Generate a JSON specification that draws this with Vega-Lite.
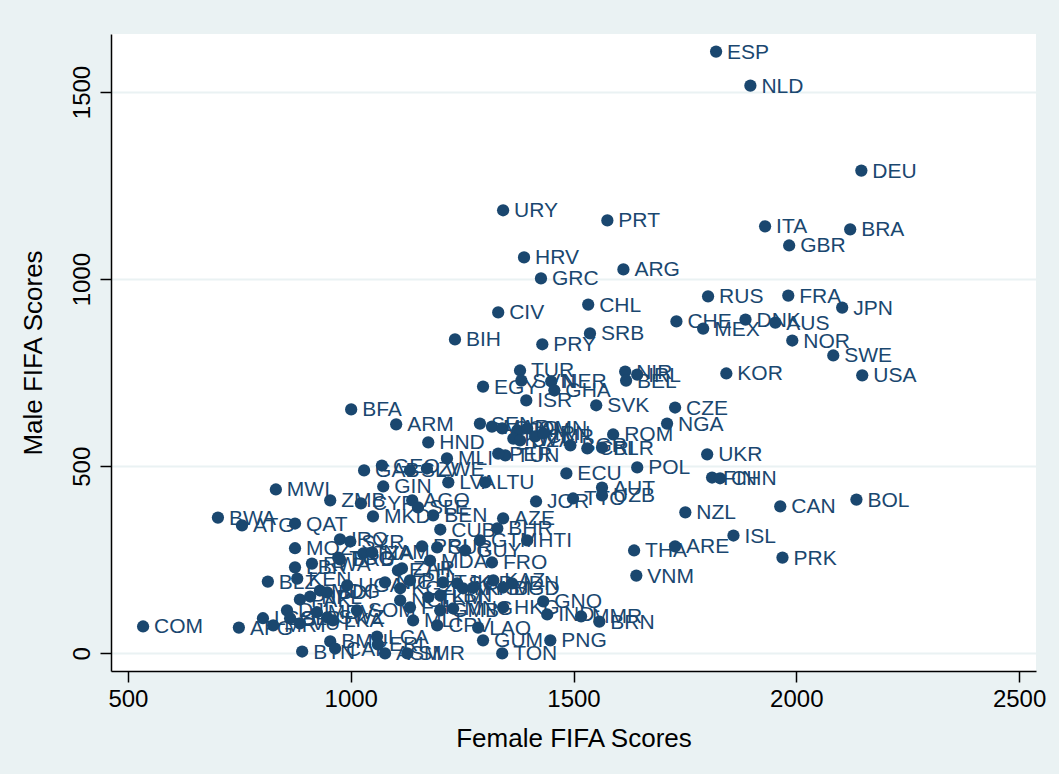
{
  "$schema": "https://vega.github.io/schema/vega-lite/v6.json",
  "width": 925,
  "height": 637,
  "autosize": {"type": "none"},
  "padding": {"left": 111, "top": 34, "right": 23, "bottom": 103},
  "background": "#EAF2F3",
  "config": {
    "view": {"stroke": null, "fill": "white"},
    "font": "Liberation Sans",
    "axis": {
      "domainColor": "black", "domainWidth": 1.5, "tickColor": "black", "tickWidth": 1.5, "tickSize": 11,
      "labelFont": "Liberation Sans", "labelColor": "black", "labelFontSize": 24,
      "titleFont": "Liberation Sans", "titleColor": "black", "titleFontSize": 26, "titleFontWeight": "normal"
    }
  },
  "data": {"values": [
    {"c":"ESP","f":1820,"m":1608},{"c":"NLD","f":1897,"m":1517},{"c":"DEU","f":2146,"m":1290},
    {"c":"URY","f":1342,"m":1184},{"c":"PRT","f":1576,"m":1157},{"c":"ITA","f":1930,"m":1141},
    {"c":"BRA","f":2121,"m":1133},{"c":"GBR","f":1984,"m":1090},{"c":"HRV","f":1389,"m":1058},
    {"c":"ARG","f":1612,"m":1026},{"c":"GRC","f":1427,"m":1002},{"c":"RUS","f":1802,"m":954},
    {"c":"FRA","f":1982,"m":956},{"c":"JPN","f":2103,"m":924},{"c":"CHL","f":1533,"m":932},
    {"c":"CIV","f":1331,"m":911},{"c":"CHE","f":1731,"m":887},{"c":"DNK","f":1886,"m":892},
    {"c":"AUS","f":1953,"m":884},{"c":"MEX","f":1791,"m":868},{"c":"NOR","f":1991,"m":836},
    {"c":"SRB","f":1537,"m":855},{"c":"BIH","f":1234,"m":839},{"c":"PRY","f":1430,"m":826},
    {"c":"SWE","f":2083,"m":796},{"c":"USA","f":2148,"m":743},{"c":"KOR","f":1843,"m":748},
    {"c":"TUR","f":1380,"m":756},{"c":"NIR","f":1616,"m":753},{"c":"IRL","f":1643,"m":745},
    {"c":"BEL","f":1618,"m":729},{"c":"EGY","f":1297,"m":713},{"c":"SVN","f":1383,"m":729},
    {"c":"NER","f":1450,"m":727},{"c":"GHA","f":1457,"m":703},{"c":"ISR","f":1394,"m":676},
    {"c":"SVK","f":1551,"m":663},{"c":"CZE","f":1728,"m":657},{"c":"NGA","f":1710,"m":614},
    {"c":"BFA","f":1001,"m":652},{"c":"ARM","f":1102,"m":612},{"c":"HND","f":1174,"m":564},
    {"c":"ROM","f":1589,"m":585},{"c":"UKR","f":1800,"m":532},{"c":"POL","f":1643,"m":497},
    {"c":"ECU","f":1484,"m":481},{"c":"FIN","f":1811,"m":470},{"c":"CHN","f":1829,"m":468},
    {"c":"AUT","f":1564,"m":443},{"c":"UZB","f":1564,"m":422},{"c":"TTO","f":1499,"m":414},
    {"c":"JOR","f":1416,"m":406},{"c":"NZL","f":1751,"m":377},{"c":"CAN","f":1964,"m":393},
    {"c":"BOL","f":2135,"m":411},{"c":"ISL","f":1859,"m":315},{"c":"THA","f":1636,"m":275},
    {"c":"ARE","f":1728,"m":286},{"c":"PRK","f":1969,"m":256},{"c":"VNM","f":1641,"m":208},
    {"c":"GNQ","f":1432,"m":139},{"c":"IND","f":1441,"m":104},{"c":"MMR","f":1517,"m":99},
    {"c":"BRN","f":1558,"m":85},{"c":"PNG","f":1448,"m":35},{"c":"TON","f":1340,"m":0},
    {"c":"GUM","f":1297,"m":35},{"c":"LAO","f":1286,"m":69},{"c":"HKG","f":1342,"m":123},
    {"c":"KAZ","f":1320,"m":195},{"c":"FRO","f":1317,"m":243},{"c":"HTI","f":1396,"m":302},
    {"c":"AZE","f":1342,"m":361},{"c":"BHR","f":1329,"m":334},{"c":"CUB","f":1201,"m":331},
    {"c":"MDA","f":1178,"m":248},{"c":"ZAR","f":1115,"m":227},{"c":"COM","f":534,"m":72},
    {"c":"BWA","f":702,"m":363},{"c":"ATG","f":756,"m":342},{"c":"QAT","f":875,"m":347},
    {"c":"MWI","f":832,"m":438},{"c":"ZMB","f":954,"m":409},{"c":"CYP","f":1023,"m":401},
    {"c":"MKD","f":1050,"m":366},{"c":"AGO","f":1138,"m":409},{"c":"SLE","f":1151,"m":390},
    {"c":"BEN","f":1185,"m":369},{"c":"GIN","f":1073,"m":446},{"c":"GAB","f":1030,"m":489},
    {"c":"GEO","f":1070,"m":502},{"c":"SLV","f":1133,"m":489},{"c":"ZWE","f":1171,"m":494},
    {"c":"MLI","f":1216,"m":521},{"c":"LVA","f":1219,"m":457},{"c":"LTU","f":1302,"m":457},
    {"c":"SEN","f":1290,"m":614},{"c":"MAR","f":1317,"m":606},{"c":"COD","f":1340,"m":601},
    {"c":"JAM","f":1374,"m":596},{"c":"OMN","f":1396,"m":601},{"c":"KWT","f":1365,"m":574},
    {"c":"DZA","f":1380,"m":569},{"c":"CMR","f":1414,"m":580},{"c":"IRN","f":1432,"m":588},
    {"c":"BGR","f":1493,"m":556},{"c":"CRI","f":1531,"m":548},{"c":"BLR","f":1564,"m":550},
    {"c":"TUN","f":1347,"m":529},{"c":"PER","f":1331,"m":534},{"c":"IRQ","f":976,"m":305},
    {"c":"SYR","f":999,"m":299},{"c":"MOZ","f":875,"m":281},{"c":"TZA","f":1028,"m":267},
    {"c":"NAM","f":1048,"m":270},{"c":"RWA","f":913,"m":240},{"c":"LBR","f":875,"m":230},
    {"c":"BRB","f":976,"m":251},{"c":"ETH","f":1106,"m":222},{"c":"BLZ","f":814,"m":192},
    {"c":"KEN","f":880,"m":200},{"c":"UGA","f":992,"m":182},{"c":"NIC","f":1077,"m":190},
    {"c":"MDG","f":931,"m":168},{"c":"BDI","f":947,"m":163},{"c":"PAK","f":886,"m":144},
    {"c":"NPL","f":909,"m":152},{"c":"SOM","f":1014,"m":115},{"c":"DJI","f":857,"m":115},
    {"c":"MDV","f":924,"m":110},{"c":"SWZ","f":947,"m":96},{"c":"LSO","f":803,"m":94},
    {"c":"MRT","f":826,"m":75},{"c":"SLB","f":864,"m":94},{"c":"LKA","f":960,"m":88},
    {"c":"AFG","f":749,"m":69},{"c":"VUT","f":886,"m":80},{"c":"BMU","f":954,"m":32},
    {"c":"CAF","f":965,"m":13},{"c":"LCA","f":1059,"m":45},{"c":"ERI","f":1061,"m":24},
    {"c":"BTN","f":891,"m":5},{"c":"ASM","f":1077,"m":0},{"c":"SMR","f":1127,"m":0},
    {"c":"PRI","f":1160,"m":286},{"c":"SUR","f":1194,"m":283},{"c":"GUY","f":1257,"m":275},
    {"c":"GTM","f":1290,"m":302},{"c":"TGO","f":972,"m":256},{"c":"PHL","f":1133,"m":195},
    {"c":"KGZ","f":1111,"m":174},{"c":"TJK","f":1207,"m":190},{"c":"SGP","f":1239,"m":187},
    {"c":"MYS","f":1252,"m":174},{"c":"KHM","f":1275,"m":176},{"c":"IDN","f":1362,"m":187},
    {"c":"BGD","f":1342,"m":176},{"c":"TKM","f":1174,"m":150},{"c":"LBN","f":1201,"m":155},
    {"c":"NCL","f":1111,"m":142},{"c":"FJI","f":1133,"m":123},{"c":"GMB","f":1201,"m":115},
    {"c":"MNG","f":1230,"m":120},{"c":"MLT","f":1140,"m":88},{"c":"CPV","f":1194,"m":75}
  ]},
  "encoding": {
    "x": {"field": "f", "type": "quantitative", "title": "Female FIFA Scores",
      "scale": {"domain": [462, 2538], "nice": false, "zero": false},
      "axis": {"values": [500, 1000, 1500, 2000, 2500], "format": "d", "grid": false, "labelPadding": 5, "titlePadding": 14}},
    "y": {"field": "m", "type": "quantitative", "title": "Male FIFA Scores",
      "scale": {"domain": [-47, 1655], "nice": false, "zero": false},
      "axis": {"values": [0, 500, 1000, 1500], "format": "d", "grid": true, "gridColor": "#EAF2F3", "gridWidth": 2,
        "labelAngle": -90, "labelAlign": "center", "labelBaseline": "bottom", "labelPadding": 6, "titlePadding": 24}}
  },
  "layer": [
    {"mark": {"type": "text", "align": "left", "baseline": "middle", "dx": 11, "dy": 1, "fontSize": 21, "font": "Liberation Sans", "color": "#1A476F"},
     "encoding": {"text": {"field": "c"}}},
    {"mark": {"type": "circle", "size": 150, "opacity": 1, "color": "#1A476F"}}
  ]
}
